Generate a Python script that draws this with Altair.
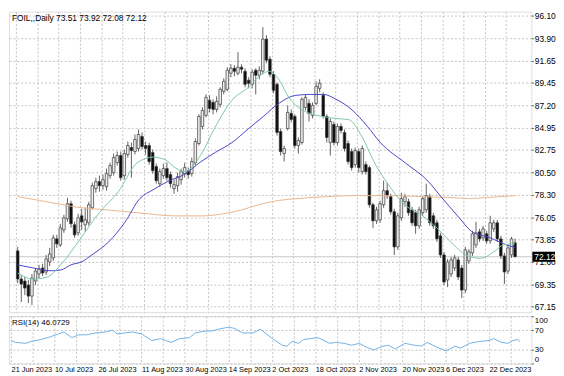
import altair as alt
import pandas as pd

# ---------------- data ----------------
dates = ["21 Jun 2023", "10 Jul 2023", "26 Jul 2023", "11 Aug 2023", "30 Aug 2023",
         "14 Sep 2023", "2 Oct 2023", "18 Oct 2023", "2 Nov 2023", "20 Nov 2023",
         "6 Dec 2023", "22 Dec 2023"]
price_ticks = [96.10, 93.90, 91.65, 89.45, 87.20, 84.95, 82.75, 80.50, 78.30,
               76.05, 73.85, 71.60, 69.35, 67.15]
rsi_ticks = [0, 30, 70, 100]

opens = [72.7, 69.9, 69.7, 69.3, 68.2, 69.7, 70.4, 71.0, 70.6, 71.6,
         72.0, 73.9, 73.3, 74.8, 75.9, 77.4, 75.3, 74.5, 76.2, 75.3,
         75.5, 77.0, 78.9, 79.6, 79.2, 79.1, 80.2, 80.5, 81.5, 82.2,
         80.2, 82.3, 83.0, 82.6, 82.9, 84.1, 83.2, 83.2, 82.5, 81.1,
         79.4, 80.2, 80.9, 80.3, 78.9, 79.2, 79.8, 80.4, 80.6, 80.4,
         81.5, 83.4, 85.1, 86.2, 87.7, 87.5, 86.8, 87.3, 88.6, 88.8,
         90.4, 90.9, 90.4, 91.0, 90.6, 89.7, 89.3, 90.7, 90.2, 90.6,
         93.8, 91.8, 90.3, 89.3, 84.6, 82.4, 84.9, 86.4, 86.1, 83.2,
         83.5, 87.0, 87.4, 86.2, 87.4, 88.9, 88.2, 86.1, 83.5, 85.3,
         83.5, 85.1, 84.5, 83.4, 82.6, 81.3, 82.6, 80.6, 81.3, 81.0,
         77.3, 75.7, 75.8, 77.3, 78.7, 78.1, 76.6, 73.1, 76.0, 77.6,
         77.6, 76.8, 76.5, 75.2, 76.5, 76.8, 78.1, 76.2, 75.5, 74.2,
         72.3, 69.8, 70.4, 71.0, 71.8, 71.0, 68.8, 71.7, 72.5, 73.3,
         74.6, 74.0, 74.4, 73.7, 74.9, 75.5, 73.9, 72.2, 70.7, 72.3,
         73.51]
highs = [73.1, 70.3, 70.1, 69.8, 70.4, 71.0, 71.3, 71.4, 72.3, 73.0,
         74.3, 74.3, 75.4, 76.3, 78.0, 77.7, 75.6, 76.4, 76.9, 77.0,
         77.6, 79.5, 80.0, 80.2, 80.3, 80.9, 81.5, 82.4, 82.6, 82.6,
         82.8, 83.6, 83.5, 84.3, 84.8, 84.5, 83.6, 83.5, 82.8, 81.4,
         80.9, 81.4, 81.5, 80.6, 79.8, 80.5, 80.9, 81.5, 81.0, 82.0,
         83.9, 86.3, 87.0, 88.3, 88.2, 87.8, 88.1, 89.0, 89.9, 91.0,
         91.3, 91.2, 92.5, 91.3, 90.9, 90.0, 90.8, 90.9, 91.1, 95.0,
         94.2, 92.1, 90.6, 89.5, 84.9, 83.2, 87.2, 86.8, 86.3, 84.0,
         88.0, 88.3, 87.8, 87.5, 89.6, 89.8, 88.5, 86.3, 85.9, 85.6,
         85.4, 85.4, 84.8, 83.7, 82.9, 83.0, 82.9, 83.2, 81.6, 81.2,
         77.5, 77.1, 77.7, 79.7, 79.5, 78.4, 76.9, 76.5, 78.5, 78.4,
         77.9, 77.1, 76.8, 77.1, 78.2, 79.4, 78.4, 76.5, 75.8, 74.5,
         72.6, 71.9, 72.1, 72.3, 72.1, 71.3, 73.1, 72.9, 74.7, 75.6,
         74.9, 75.2, 74.7, 76.2, 75.8, 75.8, 74.2, 72.5, 73.3, 74.1,
         73.92]
lows = [69.5, 67.6, 68.3, 67.5, 67.3, 69.3, 70.0, 70.2, 70.3, 71.2,
        71.7, 73.0, 73.1, 74.5, 75.6, 75.0, 74.0, 74.2, 74.8, 74.6,
        75.2, 76.8, 78.5, 78.6, 78.8, 78.7, 79.9, 80.2, 81.2, 79.7,
        79.8, 82.0, 80.0, 82.3, 82.6, 82.8, 82.3, 81.3, 80.4, 79.4,
        79.1, 79.9, 79.7, 79.0, 78.4, 78.6, 79.3, 80.0, 79.9, 80.1,
        81.2, 83.2, 84.8, 86.0, 86.5, 86.3, 86.5, 87.0, 88.3, 88.6,
        90.0, 90.1, 90.2, 90.4, 89.0, 88.9, 88.9, 88.3, 89.8, 90.3,
        91.4, 90.0, 88.4, 84.2, 82.2, 81.6, 84.7, 85.5, 82.9, 82.4,
        83.3, 86.7, 85.6, 85.9, 87.2, 88.5, 85.9, 83.5, 82.2, 83.2,
        83.2, 84.4, 82.6, 81.3, 80.7, 81.0, 80.5, 80.3, 80.3, 77.0,
        75.0, 75.4, 75.5, 77.0, 77.9, 76.3, 72.3, 72.8, 75.7, 77.1,
        76.2, 75.2, 74.4, 74.9, 76.2, 76.5, 75.2, 74.9, 73.6, 72.0,
        69.3, 69.1, 70.1, 70.7, 69.8, 68.0, 68.5, 71.4, 72.2, 73.0,
        73.6, 73.7, 73.4, 73.4, 74.6, 73.6, 71.9, 69.4, 70.4, 72.0,
        72.08]
closes = [69.9, 69.4, 69.0, 68.2, 70.0, 70.7, 70.9, 70.5, 71.9, 72.4,
          74.0, 73.4, 75.0, 76.0, 77.4, 75.4, 74.3, 76.0, 75.6, 75.8,
          77.3, 79.2, 79.6, 79.2, 79.8, 80.4, 81.2, 82.0, 82.2, 80.0,
          82.4, 83.2, 82.7, 83.8, 84.3, 83.1, 82.9, 81.6, 80.7, 79.7,
          80.6, 80.9, 80.0, 79.4, 79.3, 80.1, 80.6, 81.0, 80.3, 81.6,
          83.6, 86.1, 86.7, 88.0, 86.9, 86.8, 87.6, 88.8, 89.6, 90.7,
          90.9, 90.6, 91.0, 90.8, 89.3, 89.4, 90.5, 90.2, 90.7, 93.8,
          91.7, 90.3, 88.7, 84.5, 82.6, 82.9, 86.5, 85.8, 83.2, 83.7,
          87.8, 88.0, 86.4, 87.2, 89.1, 89.4, 86.1, 84.0, 85.6, 83.5,
          85.1, 84.7, 82.9, 81.6, 81.0, 82.7, 81.0, 82.9, 80.6, 77.3,
          75.7, 76.8, 77.4, 78.7, 78.2, 76.6, 73.1, 76.2, 77.9, 78.1,
          76.5, 75.5, 75.2, 76.8, 77.9, 78.2, 75.5, 75.2, 73.9, 72.3,
          69.6, 71.6, 71.8, 72.0, 70.1, 68.8, 72.8, 72.6, 74.4, 74.5,
          73.9, 74.9, 73.7, 75.5, 75.5, 73.9, 72.2, 70.6, 73.0, 73.9,
          72.12]

green_i = [0, 4.3, 8.3, 12.3, 17.6, 22.9, 28.3, 33.6, 38.1, 41.6, 44.3, 46.9,
           51.5, 55.7, 60.3, 64.8, 69.1, 70.9, 73.6, 76.3, 78.9, 82.4, 86.1,
           89.6, 93.1, 96.8, 100.3, 104.8, 109.1, 113.6, 118.1, 122.4, 126.9,
           130.4, 134.1, 136.8, 140]
green_v = [70.5, 69.9, 70.1, 71.4, 73.89, 76.48, 78.59, 81.47, 82.05, 81.76,
           80.99, 80.61, 82.24, 85.12, 87.71, 88.96, 90.40, 90.59, 89.73, 88.00,
           87.04, 86.37, 86.08, 85.89, 85.79, 84.16, 81.57, 79.07, 77.25, 76.29,
           74.95, 73.41, 72.16, 71.97, 72.64, 73.31, 73.41]

blue_i = [0, 4.3, 9.6, 12.3, 14.9, 18.4, 20.3, 25.6, 30.1, 34.4, 38.1, 42.4,
          46.9, 51.5, 55.7, 60.3, 64.8, 69.1, 73.6, 78.1, 82.4, 86.1, 89.6,
          94.1, 98.4, 102.1, 109.1, 115.5, 118.9, 124.3, 127.7, 133.1, 136.8, 140]
blue_v = [71.30, 71.01, 70.72, 70.82, 71.30, 71.68, 72.16, 73.60, 75.52, 77.92,
          78.79, 79.65, 80.32, 81.57, 82.53, 83.49, 84.83, 86.08, 87.42, 88.19,
          88.29, 88.29, 87.81, 86.75, 85.12, 83.49, 81.47, 79.65, 78.21, 76.00,
          74.66, 73.99, 73.41, 73.03]

orange_i = [0, 7.7, 16.8, 25.6, 34.4, 44.3, 52.3, 57.6, 62.9, 68.3, 73.6, 78.9,
            86.9, 94.9, 105.6, 113.6, 121.6, 126.9, 132.3, 140]
orange_v = [78.11, 77.63, 77.05, 76.77, 76.48, 76.19, 76.19, 76.39, 76.77, 77.35,
            77.73, 77.92, 78.11, 78.21, 78.21, 78.11, 78.02, 77.92, 78.02, 78.21]

rsi_i = [-0.5, 0.8, 3.5, 5.1, 7.7, 10.4, 14.1, 16.3, 18.1, 20.3,
         22.9, 25.6, 27.5, 28.8, 30.9, 33.1, 35.5, 38.4, 40.8, 43.7,
         46.1, 48.8, 50.4, 53.1, 54.9, 56.8, 59.5, 61.1, 63.5, 66.4,
         68.3, 71.7, 74.4, 75.7, 77.1, 78.9, 80.3, 82.1, 84.3, 87.5,
         89.1, 91.5, 93.6, 95.7, 97.6, 99.7, 102.1, 103.7, 105.6, 108.3,
         110.9, 112.8, 114.4, 117.1, 119.7, 122.1, 123.7, 126.1, 128.8, 131.5,
         132.8, 134.9, 136.8, 138.1, 139.5, 140]
rsi_v = [48.6, 44.6, 42.6, 46.6, 50.6, 56.6, 66.6, 54.6, 60.6, 60.6,
         64.6, 66.6, 70.6, 62.6, 64.6, 66.6, 62.6, 48.6, 52.6, 44.6,
         52.6, 54.6, 64.6, 68.6, 68.6, 72.6, 76.6, 74.6, 64.6, 64.6,
         72.6, 52.6, 38.6, 36.6, 46.6, 42.6, 50.6, 52.6, 54.6, 42.6,
         44.6, 42.6, 38.6, 42.6, 34.6, 28.6, 36.6, 38.6, 30.6, 42.6,
         38.6, 36.6, 44.6, 34.6, 26.6, 36.6, 32.6, 42.6, 46.6, 48.6,
         52.6, 44.6, 42.6, 48.6, 50.6, 46.07]

last_price = 72.12
header_text = "FOIL,,Daily  73.51 73.92 72.08 72.12"
rsi_text = "RSI(14) 46.0729"

# ---------------- chart ----------------
W, H1, H2 = 530, 305, 48
FONT = "Liberation Sans"
GRID = "#c4c4c4"

candles = pd.DataFrame({"i": list(range(len(opens))), "o": opens, "h": highs,
                        "l": lows, "c": closes})
candles["dir"] = ["up" if c >= o else "down" for o, c in zip(opens, closes)]

xs = alt.Scale(domain=[-1.07, 143.2], nice=False, zero=False)
ys = alt.Scale(domain=[66.59, 96.54], nice=False, zero=False)
rs = alt.Scale(domain=[0, 100], nice=False, zero=False)
grid_vals = [6 * k - 0.5 for k in range(24)]

x_main_axis = alt.Axis(values=grid_vals, labels=False, ticks=False, domain=False,
                       grid=True, gridColor=GRID, gridDash=[2, 2], title=None)
y_main_axis = alt.Axis(orient="right", values=price_ticks, format=".2f",
                       labelFont=FONT, labelFontSize=8.5, labelColor="#000",
                       labelPadding=1, tickSize=2, tickColor="#555", domain=False,
                       grid=True, gridColor=GRID, gridDash=[2, 2], title=None,
                       labelOverlap=False)


def X(field="i:Q"):
    return alt.X(field, scale=xs, axis=x_main_axis)


def Y(field):
    return alt.Y(field, scale=ys, axis=y_main_axis)


bid = alt.Chart(pd.DataFrame({"p": [last_price]})).mark_rule(
    color="#c8c8c8", strokeWidth=1).encode(y=Y("p:Q"))

wick = alt.Chart(candles).mark_rule(color="#505050", strokeWidth=0.9).encode(
    x=X(), y=Y("l:Q"), y2="h:Q")

body = alt.Chart(candles).mark_bar(size=2.6, stroke="#383838", strokeWidth=0.7).encode(
    x=X(), y=Y("o:Q"), y2="c:Q",
    color=alt.Color("dir:N", scale=alt.Scale(domain=["up", "down"],
                                             range=["#eeeeee", "#0d0d0d"]),
                    legend=None))


def ma_line(ii, vv, col):
    return alt.Chart(pd.DataFrame({"i": ii, "v": vv})).mark_line(
        color=col, strokeWidth=1, interpolate="monotone").encode(x=X(), y=Y("v:Q"))


orange = ma_line(orange_i, orange_v, "#ebb68c")
blue = ma_line(blue_i, blue_v, "#4646c8")
green = ma_line(green_i, green_v, "#7cc8a4")

header = alt.Chart(pd.DataFrame({"t": [header_text]})).mark_text(
    align="left", baseline="middle", font=FONT, fontSize=8.5, color="#000").encode(
    x=alt.value(3), y=alt.value(6), text="t:N")

box = alt.Chart(pd.DataFrame({"hi": [last_price + 0.5], "lo": [last_price - 0.5]})).mark_rect(
    color="#000").encode(x=alt.value(W + 1), x2=alt.value(W + 24), y=Y("hi:Q"), y2="lo:Q")

box_text = alt.Chart(pd.DataFrame({"p": [last_price], "t": ["%.2f" % last_price]})).mark_text(
    align="left", baseline="middle", color="#ffffff", font=FONT, fontSize=8.5).encode(
    x=alt.value(W + 3), y=Y("p:Q"), text="t:N")

main = alt.layer(bid, wick, body, orange, blue, green, header, box, box_text).properties(
    width=W, height=H1)

arr = "[" + ",".join("'%s'" % d for d in dates) + "]"
label_expr = ("(round((datum.value + 0.5) / 6) % 2 == 0) ? " + arr +
              "[round((datum.value + 0.5) / 12)] : ''")

x_rsi_axis = alt.Axis(values=grid_vals, labelExpr=label_expr, labelAlign="left",
                      labelFont=FONT, labelFontSize=7.5, labelColor="#000",
                      labelPadding=2, labelFlush=False, labelOverlap=False,
                      ticks=False, domain=False, grid=True, gridColor=GRID,
                      gridDash=[2, 2], title=None)
y_rsi_axis = alt.Axis(orient="right", values=rsi_ticks, labelFont=FONT,
                      labelFontSize=8, labelColor="#000", labelFlush=True,
                      labelPadding=1, tickSize=2, tickColor="#555", domain=False,
                      grid=True, gridColor=GRID, gridDash=[2, 2], title=None,
                      labelOverlap=False)

rsi_line = alt.Chart(pd.DataFrame({"i": rsi_i, "v": rsi_v})).mark_line(
    color="#72b2e6", strokeWidth=1).encode(
    x=alt.X("i:Q", scale=xs, axis=x_rsi_axis),
    y=alt.Y("v:Q", scale=rs, axis=y_rsi_axis))

rsi_label = alt.Chart(pd.DataFrame({"t": [rsi_text]})).mark_text(
    align="left", baseline="middle", font=FONT, fontSize=8, color="#000").encode(
    x=alt.value(3), y=alt.value(7), text="t:N")

rsi = alt.layer(rsi_line, rsi_label).properties(width=W, height=H2)

chart = alt.vconcat(main, rsi, spacing=2).properties(padding=0).configure_view(
    stroke="#7a7a7a", strokeWidth=1).configure(background="#ffffff")

chart.save("out.html", embed_options={"renderer": "svg", "actions": False})
